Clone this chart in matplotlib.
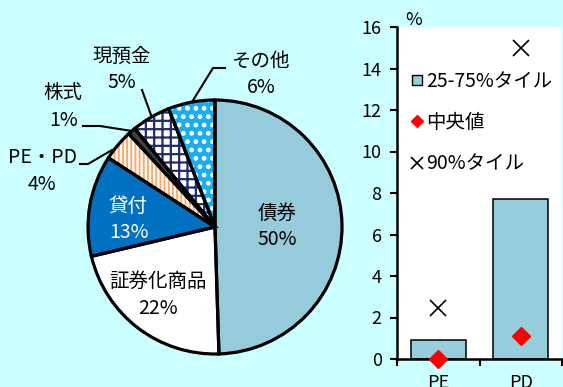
import matplotlib
matplotlib.use("Agg")
import matplotlib.pyplot as plt
from matplotlib.lines import Line2D

plt.rcParams['font.family'] = ['Noto Sans CJK JP', 'DejaVu Sans']

# ---- data ----
pie_labels = ["債券", "証券化商品", "貸付", "PE・PD", "株式", "現預金", "その他"]
pie_values = [50, 22, 13, 4, 1, 5, 6]

bar_categories = ["PE", "PD"]
q25_75 = [0.9, 7.7]
median = [0.0, 1.1]
p90 = [2.45, 15.0]

BG = "#ccffff"
W, H = 563, 387
fig = plt.figure(figsize=(W / 100, H / 100), dpi=100, facecolor=BG)

# ---- pie ----
CX, CY, R = 215, 227, 127
half = 150
pie_ax = fig.add_axes([(CX - half) / W, 1 - (CY + half) / H, 2 * half / W, 2 * half / H])

def d(px, py):
    return (px - CX) / R, (CY - py) / R

face_colors = ["#96cbdc", "#ffffff", "#0070c0", "#ffffff", "#404040", "#ffffff", "#1aaef0"]
hatches = [None, None, None, "||||", None, "++", ".."]
hatch_colors = ["#96cbdc", "#ffffff", "#0070c0", "#ffa868", "#404040", "#1f2c6e", "#ffffff"]
hatch_widths = [1.0, 1.0, 1.0, 1.4, 1.0, 1.6, 2.2]

plt.rcParams['hatch.linewidth'] = 1.4
wedges, _ = pie_ax.pie(pie_values, colors=face_colors, startangle=90, counterclock=False,
                       radius=1, center=(0, 0), hatch=hatches,
                       wedgeprops=dict(linewidth=0))
for w, hc, hw in zip(wedges, hatch_colors, hatch_widths):
    w.set_edgecolor(hc)
    w.set_linewidth(0)
    if hasattr(w, "set_hatch_linewidth"):
        w.set_hatch_linewidth(hw)
pie_ax.pie(pie_values, colors=["none"] * len(pie_values), startangle=90, counterclock=False,
           radius=1, center=(0, 0),
           wedgeprops=dict(fill=False, edgecolor="black", linewidth=2.3))
pie_ax.set_xlim(-half / R, half / R)
pie_ax.set_ylim(-half / R, half / R)
pie_ax.set_aspect("equal")
pie_ax.axis("off")

FS = 14
label_pos = {
    "債券": ((277, 213), (277, 240), "black"),
    "証券化商品": ((158, 281), (158, 308), "black"),
    "貸付": ((128, 207), (129, 233), "white"),
    "PE・PD": ((43, 158), (42, 185), "black"),
    "株式": ((63, 93), (64, 120), "black"),
    "現預金": ((122, 56), (122, 83), "black"),
    "その他": ((260, 61), (261, 88), "black"),
}
for name, val in zip(pie_labels, pie_values):
    (p1, p2, col) = label_pos[name]
    pie_ax.text(*d(*p1), name, ha="center", va="center", fontsize=FS, color=col)
    pie_ax.text(*d(*p2), f"{val}%", ha="center", va="center", fontsize=FS, color=col)

leaders = [
    [(192, 102), (213, 68), (225, 68)],
    [(142, 90), (151, 115)],
    [(83, 126), (100, 126), (132, 131)],
    [(80, 164), (88, 164), (112, 150)],
]
for pts in leaders:
    xs, ys = zip(*[d(*p) for p in pts])
    pie_ax.plot(xs, ys, color="black", lw=1.5, clip_on=False)

# ---- bar chart ----
L, Rr, T, B = 397, 562, 27, 359
bax = fig.add_axes([L / W, 1 - B / H, (Rr - L) / W, (B - T) / H])
bax.set_facecolor("white")
x = list(range(len(bar_categories)))
bax.bar(x, q25_75, width=0.67, color="#96cddd", edgecolor="black", linewidth=1.1)
bax.plot(x, median, linestyle="none", marker="D", markersize=9,
         color="#ff0000", clip_on=False, zorder=5)
bax.plot(x, p90, linestyle="none", marker="x", markersize=11,
         markeredgewidth=1.2, color="black", clip_on=False, zorder=5)

bax.set_xlim(-0.5, 1.5)
bax.set_ylim(0, 16)
bax.set_yticks(range(0, 17, 2))
bax.set_xticks(x)
bax.set_xticklabels(bar_categories)
bax.set_xticks([-0.5, 0.5, 1.5], minor=True)
bax.tick_params(axis="x", which="major", length=0, labelsize=FS - 1, pad=11)
bax.tick_params(axis="x", which="minor", length=5, width=1.5, direction="out")
bax.tick_params(axis="y", length=5, width=1.5, direction="out", labelsize=FS - 1, pad=6)
for s in ("top", "right"):
    bax.spines[s].set_visible(False)
for s in ("left", "bottom"):
    bax.spines[s].set_linewidth(1.8)
fig.text(414 / W, 1 - 20 / H, "%", ha="center", va="center", fontsize=FS - 1)

handles = [
    Line2D([], [], linestyle="none", marker="s", markersize=7, markerfacecolor="#96cddd",
           markeredgecolor="black", markeredgewidth=1.0),
    Line2D([], [], linestyle="none", marker="D", markersize=6, color="#ff0000"),
    Line2D([], [], linestyle="none", marker="x", markersize=8, markeredgewidth=1.2, color="black"),
]
bax.legend(handles, ["25-75%タイル", "中央値", "90%タイル"], loc="upper left",
           bbox_to_anchor=((411 - L) / (Rr - L), 1 - (71 - T) / (B - T)),
           frameon=False, fontsize=FS, handlelength=0.6, handletextpad=0.17,
           labelspacing=1.04, borderpad=0, borderaxespad=0)

fig.savefig("out.png", dpi=100, facecolor=BG)
